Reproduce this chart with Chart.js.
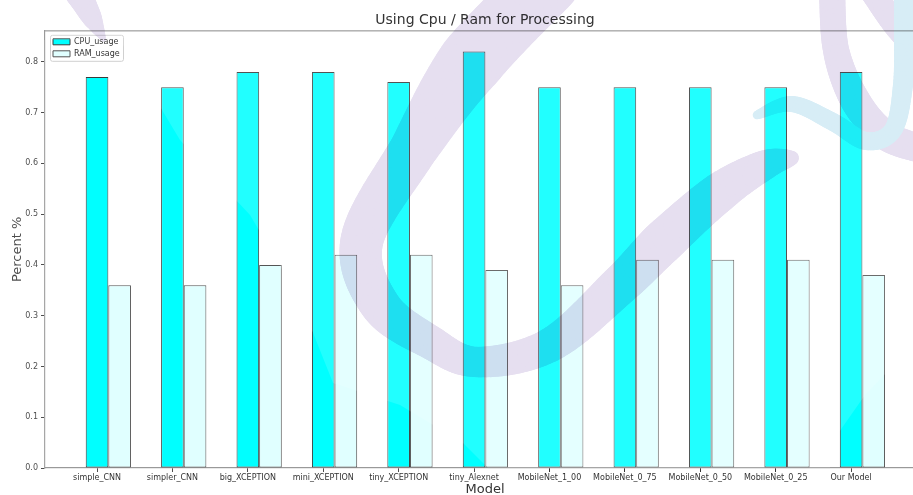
<!DOCTYPE html>
<html>
<head>
<meta charset="utf-8">
<title>Using Cpu / Ram for Processing</title>
<script src="https://cdn.jsdelivr.net/npm/chart.js@4.4.1/dist/chart.umd.min.js"></script>
<style>
  html, body { margin: 0; padding: 0; background: #fff; overflow: hidden; }
  #wrap { position: absolute; left: 0; top: 0; width: 960px; height: 497px; }
</style>
</head>
<body>
<div id="wrap"><canvas id="usageChart" width="960" height="497"></canvas></div>
<script>
// models and measured usage (fraction of total)
var models = ['simple_CNN', 'simpler_CNN', 'big_XCEPTION', 'mini_XCEPTION', 'tiny_XCEPTION',
              'tiny_Alexnet', 'MobileNet_1_00', 'MobileNet_0_75', 'MobileNet_0_50', 'MobileNet_0_25', 'Our Model'];
var cpuUsage = [0.77, 0.75, 0.78, 0.78, 0.76, 0.82, 0.75, 0.75, 0.75, 0.75, 0.78];
var ramUsage = [0.36, 0.36, 0.40, 0.42, 0.42, 0.39, 0.36, 0.41, 0.41, 0.41, 0.38];
var yTicks = [0.0, 0.1, 0.2, 0.3, 0.4, 0.5, 0.6, 0.7, 0.8];

var FONT = 'DejaVu Sans';
var TEXT = '#333';
var SPINE = '#999';

// bars sit at x = i (cpu) and just right of it (ram), so an empty
// dataset takes the left slot and keeps the tick under the cpu bar
function points(arr) {
    return models.map(function (m, i) { return { x: i, y: arr ? arr[i] : null }; });
}

// smooth thick ribbon through [x, y, width] points (Catmull-Rom)
function ribbon(g, pts, color) {
    g.strokeStyle = color;
    g.lineCap = 'round';
    g.lineJoin = 'round';
    for (var i = 0; i < pts.length - 1; i++) {
        var p0 = pts[Math.max(i - 1, 0)], p1 = pts[i], p2 = pts[i + 1], p3 = pts[Math.min(i + 2, pts.length - 1)];
        var prev = null;
        for (var s = 0; s <= 14; s++) {
            var t = s / 14, t2 = t * t, t3 = t2 * t;
            var x = 0.5 * (2 * p1[0] + (-p0[0] + p2[0]) * t + (2 * p0[0] - 5 * p1[0] + 4 * p2[0] - p3[0]) * t2 + (-p0[0] + 3 * p1[0] - 3 * p2[0] + p3[0]) * t3);
            var y = 0.5 * (2 * p1[1] + (-p0[1] + p2[1]) * t + (2 * p0[1] - 5 * p1[1] + 4 * p2[1] - p3[1]) * t2 + (-p0[1] + 3 * p1[1] - 3 * p2[1] + p3[1]) * t3);
            if (prev) {
                g.lineWidth = p1[2] + (p2[2] - p1[2]) * t;
                g.beginPath();
                g.moveTo(prev[0], prev[1]);
                g.lineTo(x, y);
                g.stroke();
            }
            prev = [x, y];
        }
    }
}

var backdrop = {
    id: 'backdrop',
    afterLayout: function (chart) {
        // park the legend inside the plot, top left
        var lg = chart.legend, a = chart.chartArea;
        lg.left = a.left + 4;
        lg.top = a.top + 3;
        lg.right = lg.left + lg.width;
        lg.bottom = lg.top + lg.height;
    },
    beforeDraw: function (chart) {
        var ctx = chart.ctx, a = chart.chartArea;
        ctx.save();
        ctx.fillStyle = 'rgba(255,255,255,0.85)';
        ctx.strokeStyle = '#d0d0d0';
        ctx.lineWidth = 1;
        ctx.beginPath();
        ctx.roundRect(a.left + 5.5, a.top + 4.5, 73, 26, 2);
        ctx.fill();
        ctx.stroke();
        ctx.restore();
    },
    afterDraw: function (chart) {
        var ctx = chart.ctx, a = chart.chartArea;
        ctx.save();

        // top spine
        ctx.strokeStyle = SPINE;
        ctx.lineWidth = 1.2;
        ctx.beginPath();
        ctx.moveTo(a.left, a.top);
        ctx.lineTo(a.right, a.top);
        ctx.lineTo(a.right, a.bottom);
        ctx.stroke();

        // light haze over the plot, clear in the lower left and lower right
        ctx.beginPath();
        ctx.rect(a.left, a.top, a.right - a.left, a.bottom - a.top);
        ctx.moveTo(0, 40); ctx.lineTo(120, 40); ctx.lineTo(180, 140); ctx.lineTo(250, 215);
        ctx.lineTo(300, 300); ctx.lineTo(333, 383); ctx.lineTo(400, 405); ctx.lineTo(463, 443);
        ctx.lineTo(492, 472); ctx.lineTo(0, 472); ctx.closePath();
        ctx.moveTo(830, 472); ctx.lineTo(830, 445); ctx.lineTo(865, 395); ctx.lineTo(913, 345);
        ctx.lineTo(960, 300); ctx.lineTo(960, 472); ctx.closePath();
        ctx.fillStyle = 'rgba(255,255,255,0.13)';
        ctx.fill('evenodd');

        // swirl watermark, multiplied over everything
        var off = document.createElement('canvas');
        off.width = chart.width;
        off.height = chart.height;
        var g = off.getContext('2d');
        var lilac = '#e6dff0', sky = '#d7edf6';
        ribbon(g, [[78, -8, 28], [92, 18, 20], [104, 40, 3]], lilac);
        ribbon(g, [[548, -18, 64], [470, 63, 66], [413, 150, 48], [362, 240, 43], [380, 305, 40],
                   [430, 342, 34], [477, 362, 30], [550, 345, 34], [620, 285, 40], [665, 240, 44],
                   [720, 192, 40], [765, 165, 30], [792, 158, 14]], lilac);
        ribbon(g, [[832, -10, 26], [836, 50, 26], [855, 100, 30], [885, 135, 30], [925, 150, 28]], lilac);
        ribbon(g, [[872, -10, 26], [895, 25, 24], [925, 60, 22]], lilac);
        ribbon(g, [[757, 115, 8], [792, 104, 16], [833, 122, 18], [866, 141, 18], [893, 130, 18],
                   [903, 85, 20], [905, 30, 22], [905, -15, 22]], sky);
        ctx.globalCompositeOperation = 'multiply';
        ctx.drawImage(off, 0, 0);
        ctx.restore();
    }
};

new Chart(document.getElementById('usageChart'), {
    type: 'bar',
    data: {
        datasets: [{
            label: '',
            data: points(null),
            backgroundColor: 'rgba(0,0,0,0)',
            borderWidth: 0
        }, {
            label: 'CPU_usage',
            data: points(cpuUsage),
            backgroundColor: '#00ffff',
            borderColor: '#3a3a3a',
            borderWidth: 1,
            borderSkipped: false
        }, {
            label: 'RAM_usage',
            data: points(ramUsage),
            backgroundColor: '#e0ffff',
            borderColor: '#555',
            borderWidth: 1,
            borderSkipped: false
        }]
    },
    options: {
        responsive: false,
        animation: false,
        devicePixelRatio: 1,
        events: [],
        categoryPercentage: 0.9,
        barPercentage: 1.0,
        layout: { padding: { left: 0, right: 35, top: 0, bottom: 0 } },
        plugins: {
            title: {
                display: true,
                text: 'Using Cpu / Ram for Processing',
                fullSize: false,
                color: TEXT,
                font: { family: FONT, size: 14, weight: 'normal' },
                padding: { top: 12, bottom: 2 }
            },
            legend: {
                position: 'chartArea',
                align: 'start',
                labels: {
                    filter: function (item) { return item.datasetIndex > 0; },
                    boxWidth: 17,
                    boxHeight: 6,
                    padding: 4,
                    color: TEXT,
                    font: { family: FONT, size: 8 }
                }
            },
            tooltip: { enabled: false }
        },
        scales: {
            x: {
                type: 'linear',
                min: -0.69,
                max: 10.98,
                offset: false,
                afterFit: function (axis) { axis.height = 29; },
                afterBuildTicks: function (axis) {
                    axis.ticks = models.map(function (m, i) { return { value: i }; });
                },
                ticks: {
                    autoSkip: false,
                    maxRotation: 0,
                    padding: 1,
                    color: TEXT,
                    font: { family: FONT, size: 8 },
                    callback: function (v) { return models[v]; }
                },
                grid: { display: true, offset: false, drawOnChartArea: false, tickLength: 4, tickColor: TEXT },
                border: { display: true, color: SPINE, width: 1.2 },
                title: {
                    display: true,
                    text: 'Model',
                    color: TEXT,
                    font: { family: FONT, size: 13 },
                    padding: { top: 0, bottom: 0 }
                }
            },
            y: {
                min: 0,
                max: 0.861,
                afterFit: function (axis) { axis.width = 45; },
                afterBuildTicks: function (axis) {
                    axis.ticks = yTicks.map(function (v) { return { value: v }; });
                },
                ticks: {
                    padding: 3,
                    color: TEXT,
                    font: { family: FONT, size: 8 },
                    callback: function (v) { return v.toFixed(1); }
                },
                grid: { display: true, drawOnChartArea: false, tickLength: 4, tickColor: TEXT },
                border: { display: true, color: SPINE, width: 1.2 },
                title: {
                    display: true,
                    text: 'Percent %',
                    color: TEXT,
                    font: { family: FONT, size: 13 },
                    padding: { top: 10, bottom: 0 }
                }
            }
        }
    },
    plugins: [backdrop]
});
</script>
</body>
</html>
